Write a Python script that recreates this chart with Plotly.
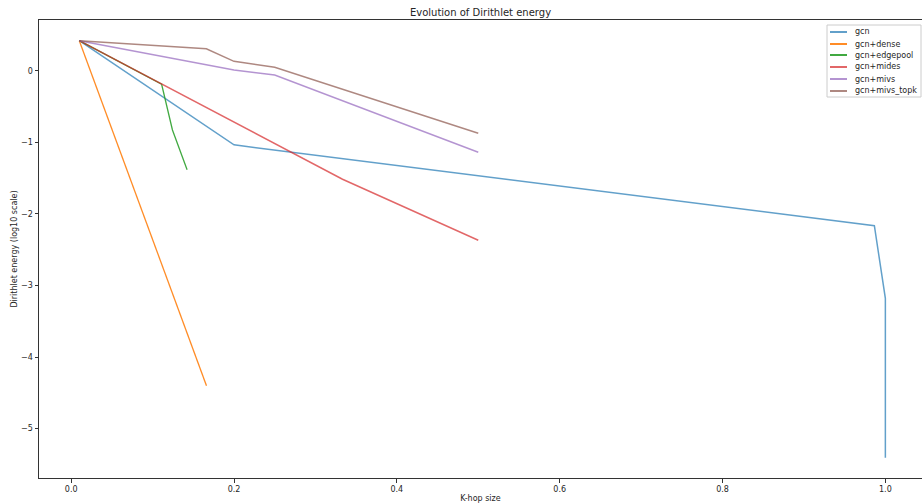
import plotly.graph_objects as go

# Dirichlet energy (log10) against K-hop size for each pooling variant
gcn_x = [0.01, 0.2, 0.9865, 1.0, 1.0]
gcn_y = [0.419, -1.036, -2.165, -3.18, -5.405]

dense_x = [0.01, 0.1662]
dense_y = [0.419, -4.40]

edgepool_x = [0.01, 0.1111, 0.1244, 0.1424]
edgepool_y = [0.419, -0.19, -0.828, -1.384]

mides_x = [0.01, 0.3333, 0.5]
mides_y = [0.419, -1.516, -2.369]

mivs_x = [0.01, 0.2, 0.25, 0.5]
mivs_y = [0.419, 0.01, -0.06, -1.14]

topk_x = [0.01, 0.166, 0.2, 0.25, 0.5]
topk_y = [0.419, 0.307, 0.131, 0.047, -0.874]

series = [
    ("gcn", gcn_x, gcn_y, "rgba(31,119,180,0.7)", 1.5),
    ("gcn+dense", dense_x, dense_y, "rgba(255,127,14,0.9)", 1.3),
    ("gcn+edgepool", edgepool_x, edgepool_y, "rgba(44,160,44,0.9)", 1.3),
    ("gcn+mides", mides_x, mides_y, "rgba(214,39,40,0.7)", 1.5),
    ("gcn+mivs", mivs_x, mivs_y, "rgba(148,103,189,0.7)", 1.5),
    ("gcn+mivs_topk", topk_x, topk_y, "rgba(140,86,75,0.7)", 1.5),
]

FONT = "DejaVu Sans"
W, H = 922, 504
ML, MR, MT, MB = 39, 0, 20, 26
PW, PH = W - ML - MR, H - MT - MB


def px_x(p):
    return (p - ML) / PW


def px_y(p):
    return (H - MB - p) / PH


fig = go.Figure()
for name, xs, ys, color, width in series:
    fig.add_trace(go.Scatter(
        x=xs, y=ys, mode="lines", name=name, showlegend=False,
        line=dict(color=color, width=width),
    ))

# compact legend box in the upper-right corner
shapes = [dict(type="rect", xref="paper", yref="paper",
               x0=px_x(827), x1=px_x(921), y0=px_y(97), y1=px_y(25),
               line=dict(color="#cccccc", width=1),
               fillcolor="rgba(255,255,255,0.8)", layer="above")]
annotations = []
for i, (name, xs, ys, color, width) in enumerate(series):
    yc = round(31.6 + 11.9 * i)
    shapes.append(dict(type="line", xref="paper", yref="paper",
                       x0=px_x(830), x1=px_x(847), y0=px_y(yc), y1=px_y(yc),
                       line=dict(color=color, width=2), layer="above"))
    annotations.append(dict(text=name, xref="paper", yref="paper",
                            x=px_x(853), y=px_y(yc), xanchor="left",
                            yanchor="middle", showarrow=False,
                            font=dict(size=8, color="#262626")))

fig.update_layout(
    width=W, height=H,
    margin=dict(l=ML, r=MR, t=MT, b=MB),
    paper_bgcolor="white", plot_bgcolor="white",
    font=dict(family=FONT, size=8, color="#262626"),
    title=dict(text="Evolution of Dirithlet energy", x=0.5, xref="paper",
               xanchor="center", y=1 - 12 / H, yref="container",
               yanchor="middle", font=dict(size=10, color="#262626")),
    showlegend=False,
    shapes=shapes,
    annotations=annotations,
    xaxis=dict(range=[-0.0395, 1.045], showgrid=False, zeroline=False,
               showline=True, linecolor="#333333", linewidth=1, mirror=True,
               ticks="outside", ticklen=3.5, tickcolor="#333333",
               tickvals=[0, 0.2, 0.4, 0.6, 0.8, 1.0], tickformat=".1f",
               title=dict(text="K-hop size", standoff=2,
                          font=dict(size=8))),
    yaxis=dict(range=[-5.689, 0.708], showgrid=False, zeroline=False,
               showline=True, linecolor="#333333", linewidth=1, mirror=False,
               ticks="outside", ticklen=3.5, tickcolor="#333333",
               tickvals=[-5, -4, -3, -2, -1, 0],
               title=dict(text="Dirithlet energy (log10 scale)", standoff=2,
                          font=dict(size=8))),
)

fig.write_html("out.html")
